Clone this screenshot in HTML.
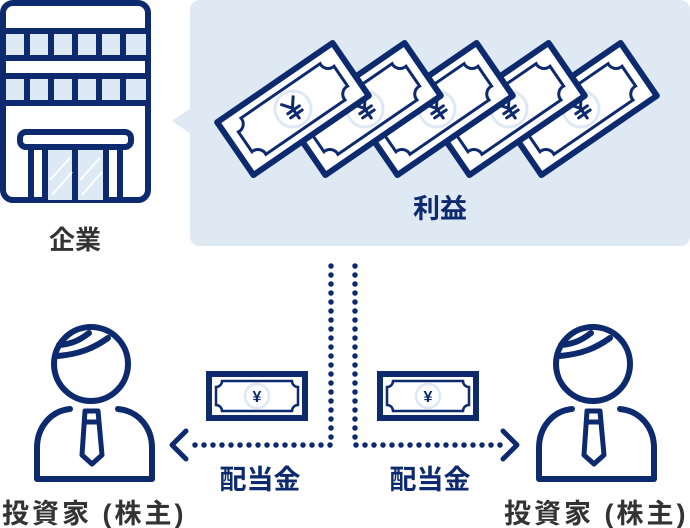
<!DOCTYPE html>
<html><head><meta charset="utf-8"><style>
html,body{margin:0;padding:0;background:#fff;}
svg{display:block}
text{font-family:"Liberation Sans","Noto Sans CJK JP",sans-serif;font-weight:bold}
</style></head><body>
<svg width="690" height="528" viewBox="0 0 690 528" xmlns="http://www.w3.org/2000/svg">
<defs>
<g id="bill">
<rect x="-70" y="-32" width="140" height="64" fill="#fff" stroke="#0d2a6e" stroke-width="6" stroke-linejoin="round"/>
<path d="M-48,-22 H48 A9,9 0 0 0 58,-12 V12 A9,9 0 0 0 48,22 H-48 A9,9 0 0 0 -58,12 V-12 A9,9 0 0 0 -48,-22 Z" fill="#fff" stroke="#0d2a6e" stroke-width="3"/>
<circle cx="0" cy="0" r="18" fill="#fff" stroke="#dde8f3" stroke-width="3"/>
<g stroke="#0d2a6e" stroke-width="3" fill="none" stroke-linecap="round"><path d="M-7,-10 L0,-1 L7,-10 M0,-1 V11 M-7,1 H7 M-7,6 H7"/></g>
</g>
<g id="sbill">
<rect x="-48" y="-22" width="96" height="44" fill="#fff" stroke="#0d2a6e" stroke-width="6"/>
<path d="M-35,-15 H35 A6,6 0 0 0 41,-9 V9 A6,6 0 0 0 35,15 H-35 A6,6 0 0 0 -41,9 V-9 A6,6 0 0 0 -35,-15 Z" fill="#fff" stroke="#0d2a6e" stroke-width="2.5"/>
<circle cx="0" cy="0" r="12" fill="#fff" stroke="#dde8f3" stroke-width="2.5"/>
<text x="0" y="6" font-size="16" text-anchor="middle" fill="#0d2a6e">¥</text>
</g>
<g id="person" fill="none" stroke="#0d2a6e" stroke-width="6" stroke-linecap="round" stroke-linejoin="round">
<circle cx="91" cy="364" r="37"/>
<path d="M58,356 C80,354 94,348 108,338"/>
<path d="M59,345 C72,344 80,340 89,333"/>
<path d="M70,409 C50,411 37,428 37,448 V479 H152 V448 C152,428 139,411 118,409"/>
<path d="M85,411 H98 L102,455 L92,464 L82,455 Z M85,422 H98" stroke-width="5"/>
</g>
</defs>
<rect x="190" y="0" width="500" height="246" rx="10" fill="#dee9f4"/>
<path d="M191,108 L172,121 L191,134 Z" fill="#dee9f4"/>
<g stroke="#0d2a6e" stroke-width="6" fill="#fff">
<rect x="3" y="3" width="145" height="197" rx="10"/>
</g>
<g fill="#dde9f4">
<rect x="6" y="33" width="140" height="22"/><rect x="6" y="78" width="140" height="22"/>
<rect x="48" y="150" width="55" height="50"/>
</g>
<g stroke="#0d2a6e" stroke-width="6" fill="none">
<path d="M3,31 H148 M3,58 H148 M3,76 H148 M3,103 H148"/>
<path d="M27,31 V58 M51,31 V58 M75,31 V58 M99,31 V58 M123,31 V58"/>
<path d="M27,76 V103 M51,76 V103 M75,76 V103 M99,76 V103 M123,76 V103"/>
<path d="M31,148 V200 M45,148 V200 M75,148 V200 M106,148 V200 M120,148 V200"/>
<rect x="20" y="132" width="111" height="15" rx="6" fill="#fff"/>
</g>
<path d="M50,180 L70,158 M52,195 L72,172 M80,180 L100,158 M82,195 L102,172" stroke="#fff" stroke-width="2"/>
<text x="75" y="249" font-size="26" text-anchor="middle" fill="#333">企業</text>
<use href="#bill" transform="translate(581,109) rotate(-34.5)"/>
<use href="#bill" transform="translate(509,109) rotate(-34.5)"/>
<use href="#bill" transform="translate(437,109) rotate(-34.5)"/>
<use href="#bill" transform="translate(365,109) rotate(-34.5)"/>
<use href="#bill" transform="translate(293,109) rotate(-34.5)"/>
<text x="440" y="218" font-size="27" text-anchor="middle" fill="#0d2a6e">利益</text>
<g stroke="#0d2a6e" stroke-width="5.5" stroke-linecap="round" stroke-dasharray="0 9" fill="none">
<path d="M331,266 V445 H188"/>
<path d="M355,266 V445 H505"/>
</g>
<g stroke="#0d2a6e" stroke-width="5" stroke-linecap="round" stroke-linejoin="round" fill="none">
<path d="M186,431 L172,445 L186,459"/>
<path d="M503,431 L517,445 L503,459"/>
</g>
<use href="#sbill" transform="translate(257,396)"/>
<use href="#sbill" transform="translate(428,396)"/>
<text x="260" y="489" font-size="27" text-anchor="middle" fill="#0d2a6e">配当金</text>
<text x="430" y="489" font-size="27" text-anchor="middle" fill="#0d2a6e">配当金</text>
<use href="#person"/>
<use href="#person" transform="translate(502,0)"/>
<text x="2" y="523" font-size="27" letter-spacing="3" fill="#333">投資家 (株主)</text>
<text x="504" y="523" font-size="27" letter-spacing="3" fill="#333">投資家 (株主)</text>
</svg>
</body></html>
